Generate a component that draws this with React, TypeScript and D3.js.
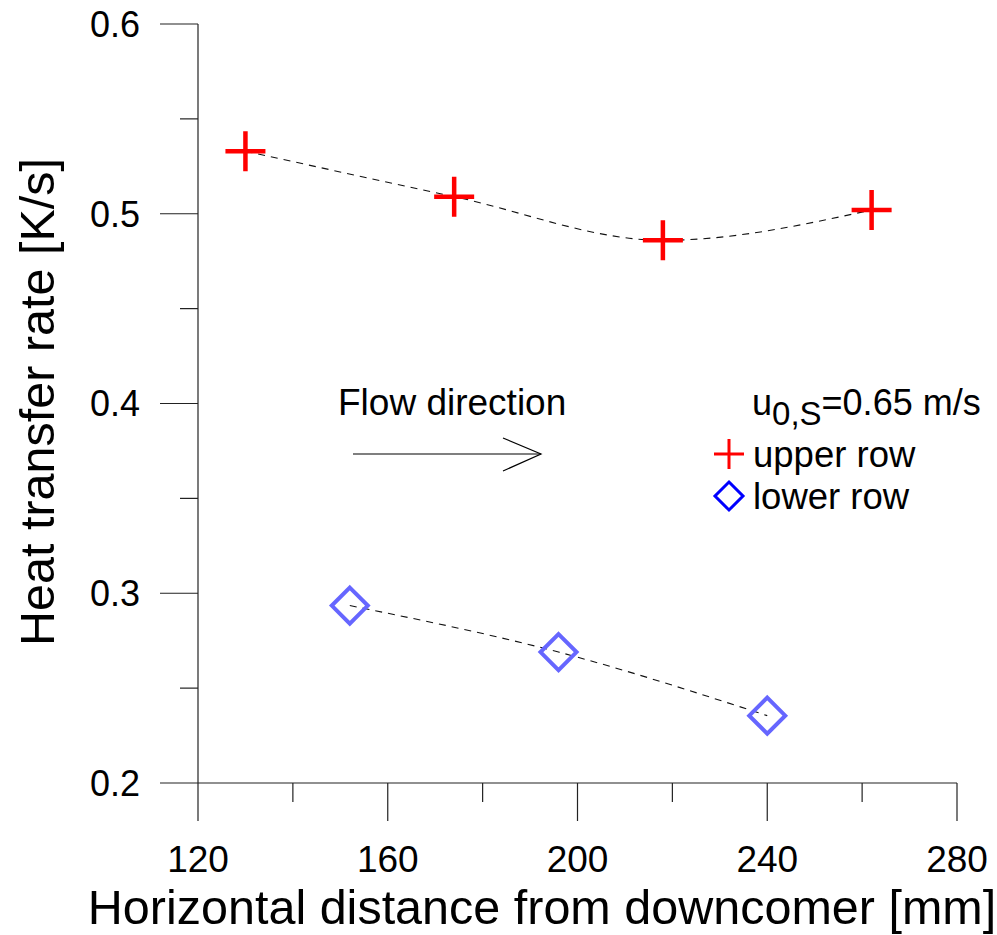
import React from "react";
import * as d3 from "d3";

// Horizontal distance from the downcomer [mm]
const upperX = [130, 174, 218, 262];
const upperY = [0.533, 0.509, 0.486, 0.502];
const lowerX = [152, 196, 240];
const lowerY = [0.2935, 0.269, 0.2355];

const xMajorTicks = [120, 160, 200, 240, 280];
const xMinorTicks = [140, 180, 220, 260];
const yMajorTicks = [0.2, 0.3, 0.4, 0.5, 0.6];
const yMinorTicks = [0.25, 0.35, 0.45, 0.55];

const W = 997;
const H = 935;
const FONT = "'Liberation Sans', Arial, Helvetica, sans-serif";

export default function App() {
  const x = d3.scaleLinear().domain([120, 280]).range([198, 957]);
  const y = d3.scaleLinear().domain([0.2, 0.6]).range([783, 24]);

  const curve = d3
    .line<[number, number]>()
    .x((d) => x(d[0]))
    .y((d) => y(d[1]))
    .curve(d3.curveMonotoneX);

  const upper = upperX.map((v, i) => [v, upperY[i]] as [number, number]);
  const lower = lowerX.map((v, i) => [v, lowerY[i]] as [number, number]);

  const cross = (s: number) => `M${-s},0H${s}M0,${-s}V${s}`;
  const diamond = (s: number) => `M0,${-s}L${s},0L0,${s}L${-s},0Z`;

  const axisColor = "#222";

  return (
    <svg
      width={W}
      height={H}
      style={{ position: "absolute", left: 0, top: 0, background: "#fff" }}
      fontFamily={FONT}
    >
      <rect width={W} height={H} fill="#fff" />

      {/* axes */}
      <line x1={x(120)} x2={x(120)} y1={y(0.6)} y2={y(0.2)} stroke={axisColor} strokeWidth={1.2} />
      <line x1={x(120)} x2={x(280)} y1={y(0.2)} y2={y(0.2)} stroke={axisColor} strokeWidth={1.2} />

      {yMajorTicks.map((t) => (
        <g key={"ym" + t}>
          <line x1={x(120) - 38} x2={x(120)} y1={y(t)} y2={y(t)} stroke={axisColor} strokeWidth={1.2} />
          <text x={140} y={y(t)} dy="0.36em" textAnchor="end" fontSize={36} fill="#000">
            {t.toFixed(1)}
          </text>
        </g>
      ))}
      {yMinorTicks.map((t) => (
        <line key={"yn" + t} x1={x(120) - 18} x2={x(120)} y1={y(t)} y2={y(t)} stroke={axisColor} strokeWidth={1.2} />
      ))}

      {xMajorTicks.map((t) => (
        <g key={"xm" + t}>
          <line x1={x(t)} x2={x(t)} y1={y(0.2)} y2={y(0.2) + 38} stroke={axisColor} strokeWidth={1.2} />
          <text x={x(t)} y={872} textAnchor="middle" fontSize={37} fill="#000">
            {t}
          </text>
        </g>
      ))}
      {xMinorTicks.map((t) => (
        <line key={"xn" + t} x1={x(t)} x2={x(t)} y1={y(0.2)} y2={y(0.2) + 19} stroke={axisColor} strokeWidth={1.2} />
      ))}

      {/* axis titles */}
      <text x={542} y={924} textAnchor="middle" fontSize={48.5} fill="#000">
        Horizontal distance from downcomer [mm]
      </text>
      <text
        transform={`translate(54,${402}) rotate(-90)`}
        textAnchor="middle"
        fontSize={48.5}
        fill="#000"
      >
        Heat transfer rate [K/s]
      </text>

      {/* connecting curves */}
      <path d={curve(upper) ?? ""} fill="none" stroke="#111" strokeWidth={1.1} strokeDasharray="7,6" />
      <path d={curve(lower) ?? ""} fill="none" stroke="#111" strokeWidth={1.1} strokeDasharray="7,6" />

      {/* upper row markers */}
      {upper.map((d, i) => (
        <path
          key={"u" + i}
          d={cross(20)}
          transform={`translate(${x(d[0])},${y(d[1])})`}
          stroke="#ff0000"
          strokeWidth={4.5}
          fill="none"
        />
      ))}

      {/* lower row markers */}
      {lower.map((d, i) => (
        <path
          key={"l" + i}
          d={diamond(18)}
          transform={`translate(${x(d[0])},${y(d[1])})`}
          stroke="#6666ff"
          strokeWidth={4}
          fill="none"
        />
      ))}

      {/* flow direction annotation */}
      <text x={338} y={415} fontSize={37} fill="#000">
        Flow direction
      </text>
      <line x1={353} x2={541} y1={454} y2={454} stroke="#000" strokeWidth={1.2} />
      <polyline points="503,438 541,454 503,471" fill="none" stroke="#000" strokeWidth={1.2} />

      {/* legend */}
      <text x={752} y={415} fontSize={36} fill="#000">
        u
        <tspan fontSize={33} dy={10}>0,S</tspan>
        <tspan dy={-10}>=0.65 m/s</tspan>
      </text>
      <path d={cross(15)} transform="translate(729,454)" stroke="#ff0000" strokeWidth={3} fill="none" />
      <text x={753} y={467} fontSize={36.5} fill="#000">
        upper row
      </text>
      <path d={diamond(14)} transform="translate(729,496)" stroke="#0000ff" strokeWidth={3} fill="none" />
      <text x={753} y={509} fontSize={36.5} fill="#000">
        lower row
      </text>
    </svg>
  );
}
